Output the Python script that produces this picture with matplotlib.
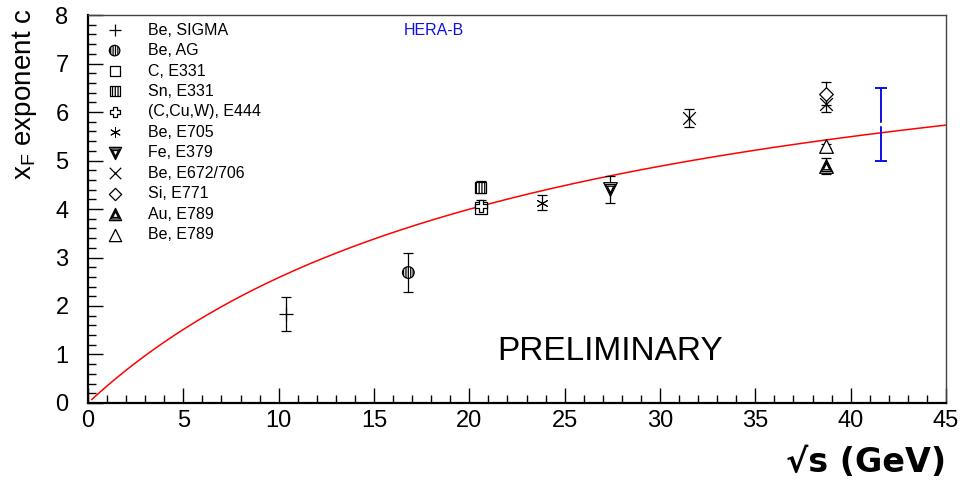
import numpy as np
import matplotlib
matplotlib.use("Agg")
import matplotlib.pyplot as plt
from matplotlib.path import Path

plt.rcParams['font.family'] = ['Liberation Sans', 'DejaVu Sans']
plt.rcParams['hatch.linewidth'] = 0.9

# ---- data -------------------------------------------------------------
labels = ["Be, SIGMA", "Be, AG", "C, E331", "Sn, E331", "(C,Cu,W), E444",
          "Be, E705", "Fe, E379", "Be, E672/706", "Si, E771", "Au, E789",
          "Be, E789"]
sqrt_s = [[10.4], [16.8], [20.6], [20.6], [20.6],
          [23.8], [27.4], [31.5, 38.7], [38.7], [38.7], [38.7]]
c_val = [[1.84], [2.69], [4.02], [4.45], [4.07],
         [4.13], [4.41], [5.88, 6.17], [6.38], [4.89], [5.30]]
c_err = [[0.35], [0.40], [0.10], [0.13], [0.12],
         [0.16], [0.28], [0.18, 0.16], [0.23], [0.16], [0.05]]

herab_sqrt_s = 41.6
herab_c = 5.75
herab_err = 0.75

# fitted parametrisation c(sqrt s) = A * x / (x + B)
fit_A = 8.78
fit_B = 23.95

# ---- marker shapes ----------------------------------------------------
w = 1.0 / 3.0
open_cross = Path([(-w, 1), (w, 1), (w, w), (1, w), (1, -w), (w, -w), (w, -1),
                   (-w, -1), (-w, -w), (-1, -w), (-1, w), (-w, w), (-w, 1)],
                  closed=True)


def draw_marker(ax, x, y, kind, transform=None, s=64):
    kw = dict(zorder=5, clip_on=False, linewidths=0.9)
    if transform is not None:
        kw['transform'] = transform
    if kind == 'plus':
        ax.scatter(x, y, marker='+', s=s * 1.4, c='black', **kw)
    elif kind == 'circ_hatch':
        ax.scatter(x, y, marker='o', s=s * 1.1, facecolor='white',
                   edgecolor='black', hatch='|||||||', **kw)
    elif kind == 'square':
        ax.scatter(x, y, marker='s', s=s, facecolor='white',
                   edgecolor='black', **kw)
    elif kind == 'square_hatch':
        ax.scatter(x, y, marker='s', s=s, facecolor='white',
                   edgecolor='black', hatch='||||||', **kw)
    elif kind == 'cross':
        ax.scatter(x, y, marker=open_cross, s=s * 1.1, facecolor='white',
                   edgecolor='black', **kw)
    elif kind == 'star':
        kw['linewidths'] = 0.7
        ax.scatter(x, y, marker=(6, 2, 0), s=s * 1.0, c='black', **kw)
    elif kind in ('tri_down_nested', 'tri_up_nested'):
        m = 'v' if kind == 'tri_down_nested' else '^'
        for f in (1.5, 0.8, 0.35):
            ax.scatter(x, y, marker=m, s=s * f, facecolor='white',
                       edgecolor='black', **kw)
    elif kind == 'x':
        ax.scatter(x, y, marker='x', s=s * 1.3, c='black', **kw)
    elif kind == 'diamond':
        ax.scatter(x, y, marker='D', s=s * 0.75, facecolor='white',
                   edgecolor='black', **kw)
    elif kind == 'tri_up':
        ax.scatter(x, y, marker='^', s=s * 1.5, facecolor='white',
                   edgecolor='black', **kw)


kinds = ['plus', 'circ_hatch', 'square', 'square_hatch', 'cross', 'star',
         'tri_down_nested', 'x', 'diamond', 'tri_up_nested', 'tri_up']

# ---- figure -------------------------------------------------------------
fig = plt.figure(figsize=(9.64, 4.86), dpi=100)
ax = fig.add_axes([0.0913, 0.1708, 0.8900, 0.7983])
ax.set_xlim(0, 45)
ax.set_ylim(0, 8)

# fit curve
xs = np.linspace(0.2, 45, 300)
ax.plot(xs, fit_A * xs / (xs + fit_B), color='red', lw=1.1, zorder=3)

# measurements
for xv, yv, ev, kind in zip(sqrt_s, c_val, c_err, kinds):
    ax.errorbar(xv, yv, yerr=ev, fmt='none', ecolor='black', elinewidth=0.9,
                capsize=3.8, capthick=0.9, zorder=4)
    draw_marker(ax, xv, yv, kind)

# HERA-B
ax.errorbar([herab_sqrt_s], [herab_c], yerr=[herab_err], fmt='none',
            ecolor='#1010e0', elinewidth=1.4, capsize=4.2, capthick=1.4,
            zorder=4)
ax.scatter([herab_sqrt_s], [herab_c], marker='o', s=3, c='white', zorder=5)

# legend
leg_y0 = 0.961
leg_dy = 0.0527
for i, (lab, kind) in enumerate(zip(labels, kinds)):
    yy = leg_y0 - i * leg_dy
    draw_marker(ax, 0.031, yy, kind, transform=ax.transAxes, s=52)
    ax.text(0.070, yy, lab, transform=ax.transAxes, fontsize=11.5,
            va='center', ha='left')

ax.text(0.368, 0.961, "HERA-B", transform=ax.transAxes, color='#1010e0',
        fontsize=11.5, va='center', ha='left')
ax.text(0.608, 0.132, "PRELIMINARY", transform=ax.transAxes, fontsize=24,
        va='center', ha='center')

# axes styling
ax.set_xticks(np.arange(0, 46, 5))
ax.set_xticks(np.arange(0, 46, 1), minor=True)
ax.set_yticks(np.arange(0, 9, 1))
ax.set_yticks(np.arange(0, 8.01, 0.2), minor=True)
ax.tick_params(which='both', direction='in', top=False, right=False,
               width=1.0, labelsize=17)
ax.tick_params(which='major', length=11)
ax.tick_params(which='minor', length=5.5)
ax.tick_params(axis='x', pad=5)
ax.tick_params(axis='y', pad=14)
for side in ('left', 'bottom'):
    ax.spines[side].set_linewidth(1.6)
for side in ('top', 'right'):
    ax.spines[side].set_linewidth(1.0)
    ax.spines[side].set_color('#444444')

fig.text(0.025, 0.982, r"x$_\mathregular{F}$ exponent c", rotation=90,
         ha='center', va='top', fontsize=20)
fig.text(0.981, 0.048, "\u221as (GeV)", ha='right', va='center',
         fontsize=24, fontweight='bold', family=['DejaVu Sans'])

fig.savefig("out.png", dpi=100)
